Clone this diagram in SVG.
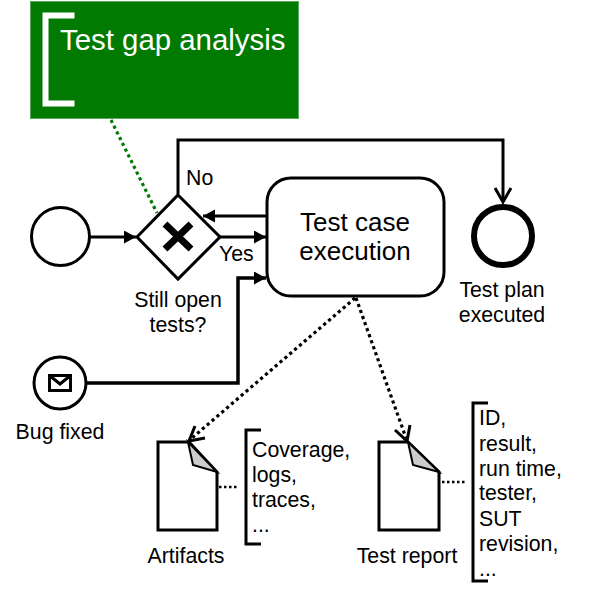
<svg xmlns="http://www.w3.org/2000/svg" width="604" height="593" viewBox="0 0 604 593">
<style>
text{font-family:"Liberation Sans",Arial,sans-serif;fill:#000}
.s{font-size:21.300px}
.m{font-size:26px}
.ln{fill:none;stroke:#000;stroke-width:3}
.dot{fill:none;stroke:#000;stroke-width:3.200;stroke-dasharray:3.200 3.200}
.dots{fill:none;stroke:#000;stroke-width:2.500;stroke-dasharray:2.500 2.500}
.doc{fill:#fff;stroke:#000;stroke-width:3}
.fold{fill:#ccc;stroke:#000;stroke-width:2;stroke-linejoin:miter}
.br{fill:none;stroke:#000;stroke-width:3}
</style>
<defs>
<marker id="tri" markerUnits="userSpaceOnUse" markerWidth="13" markerHeight="14" refX="12" refY="6.500" orient="auto"><path d="M0 0L12 6.500L0 13Z" fill="#000"/></marker>
</defs>
<g id="annotation">
<rect x="30.500" y="1.500" width="268" height="117" fill="#007a00" stroke="#5aa85a" stroke-width="1"/>
<path d="M74.500 15.500H45.500V103.500H74.500" fill="none" stroke="#fff" stroke-width="6"/>
<text x="60" y="50" font-size="29.400" style="fill:#fff">Test gap analysis</text>
</g>
<g id="connectors">
<path d="M111 120L157 213" fill="none" stroke="#007a00" stroke-width="3.200" stroke-dasharray="3.200 3.200"/>
<path class="ln" d="M90 237H136" marker-end="url(#tri)"/>
<path class="ln" d="M178 194V140H503V201"/>
<path class="ln" d="M495 188L503 202L511 188"/>
<path class="ln" d="M266 216H203" marker-end="url(#tri)"/>
<path class="ln" d="M220 237H266" marker-end="url(#tri)"/>
<path d="M87 383H238V278H266" fill="none" stroke="#000" stroke-width="3.500" marker-end="url(#tri)"/>
<path class="dot" d="M355 298L192 438"/>
<path class="ln" d="M195 426L189 441L205 438"/>
<path class="dot" d="M356 298L406 438"/>
<path class="ln" d="M395 430L407 441L410 425"/>
<path class="dots" d="M219 487H239"/>
<path class="dots" d="M442 482H466"/>
</g>
<g id="start"><circle cx="60.500" cy="236.500" r="29" fill="#fff" stroke="#000" stroke-width="3"/></g>
<g id="gateway">
<path d="M178 195L220 237L178 279L137 237Z" fill="#fff" stroke="#000" stroke-width="3"/>
<path d="M165 224L191 249M191 224L165 249" fill="none" stroke="#000" stroke-width="7"/>
<text class="s" x="186" y="185">No</text>
<text class="s" x="219" y="261">Yes</text>
<text class="s" x="178" y="307" text-anchor="middle">Still open</text>
<text class="s" x="178" y="332" text-anchor="middle">tests?</text>
</g>
<g id="task">
<rect x="267" y="178" width="177" height="118" rx="24" fill="#fff" stroke="#000" stroke-width="3"/>
<text class="m" x="355" y="231" text-anchor="middle">Test case</text>
<text class="m" x="355" y="260" text-anchor="middle">execution</text>
</g>
<g id="end">
<circle cx="503" cy="236" r="29" fill="#fff" stroke="#000" stroke-width="6"/>
<text class="s" x="502" y="297" text-anchor="middle">Test plan</text>
<text class="s" x="502" y="322" text-anchor="middle">executed</text>
</g>
<g id="bug-fixed">
<circle cx="60" cy="383" r="26" fill="#fff" stroke="#000" stroke-width="3"/>
<path d="M49.500 375.500H70.500V390.500H49.500ZM49.500 375.500L60 384L70.500 375.500" fill="#fff" stroke="#000" stroke-width="3"/>
<text class="s" x="60" y="439" text-anchor="middle">Bug fixed</text>
</g>
<g id="artifacts">
<path class="doc" d="M158 442H189L217 472V530H158Z"/>
<path class="fold" d="M188 442L193 465L217 472Z"/>
<text class="s" x="186" y="563" text-anchor="middle">Artifacts</text>
<path class="br" d="M261 430H246V544H261"/>
<text class="s" x="252" y="457">Coverage,</text>
<text class="s" x="252" y="482">logs,</text>
<text class="s" x="252" y="507">traces,</text>
<text class="s" x="252" y="532">...</text>
</g>
<g id="test-report">
<path class="doc" d="M379 442H408L439 472V530H379Z"/>
<path class="fold" d="M408 442L413 465L439 472Z"/>
<text class="s" x="407" y="563" text-anchor="middle">Test report</text>
<path class="br" d="M488 403H473V581H488"/>
<text class="s" x="479" y="425">ID,</text>
<text class="s" x="479" y="451">result,</text>
<text class="s" x="479" y="476">run time,</text>
<text class="s" x="479" y="500">tester,</text>
<text class="s" x="479" y="526">SUT</text>
<text class="s" x="479" y="551">revision,</text>
<text class="s" x="479" y="576">...</text>
</g>
</svg>
